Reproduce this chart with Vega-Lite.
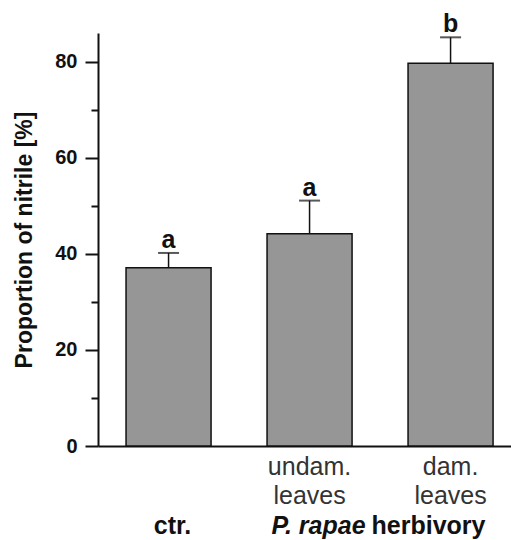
{
  "$schema": "https://vega.github.io/schema/vega-lite/v6.json",
  "width": 413,
  "height": 413,
  "autosize": "none",
  "padding": {"left": 98, "top": 33, "right": 0, "bottom": 94},
  "config": {
    "view": {"stroke": null},
    "font": "Liberation Sans",
    "axis": {"grid": false}
  },
  "datasets": {
    "bars": [
      {"cond": "ctr", "mean": 37.1, "upper": 40.2, "sig": "a"},
      {"cond": "undam", "mean": 44.2, "upper": 51.1, "sig": "a"},
      {"cond": "dam", "mean": 79.7, "upper": 85.1, "sig": "b"}
    ],
    "groups": [
      {"cond": "ctr", "label": "ctr."}
    ],
    "species": [
      {"cond": "undam", "label": "P. rapae"}
    ],
    "herb": [
      {"cond": "dam", "label": "herbivory"}
    ]
  },
  "layer": [
    {
      "data": {"name": "bars"},
      "mark": {"type": "bar", "fill": "#969696", "stroke": "#111111", "strokeWidth": 1.5},
      "encoding": {
        "x": {
          "field": "cond", "type": "nominal", "sort": ["ctr", "undam", "dam"],
          "scale": {"paddingInner": 0.397, "paddingOuter": 0.163, "align": 0.61},
          "axis": {
            "title": null,
            "ticks": false,
            "domainColor": "#111111",
            "domainWidth": 2,
            "labelAngle": 0,
            "labelFont": "Liberation Sans",
            "labelFontSize": 25,
            "labelColor": "#333333",
            "labelPadding": 8,
            "labelLineHeight": 29,
            "labelExpr": "datum.value == 'ctr' ? '' : datum.value == 'undam' ? ['undam.', 'leaves'] : ['dam.', 'leaves']"
          }
        },
        "y": {
          "field": "mean", "type": "quantitative",
          "scale": {"domain": [0, 86], "nice": false},
          "axis": {
            "title": "Proportion of nitrile [%]",
            "titleFont": "Liberation Sans",
            "titleFontSize": 23,
            "titleFontWeight": "bold",
            "titleColor": "#111111",
            "titlePadding": 18,
            "values": [0, 10, 20, 30, 40, 50, 60, 70, 80],
            "labelExpr": "datum.value % 20 == 0 ? datum.label : ''",
            "labelFont": "Liberation Sans",
            "labelFontSize": 20,
            "labelFontWeight": "bold",
            "labelColor": "#111111",
            "labelPadding": 8,
            "tickSize": {"condition": {"test": "datum.value % 20 == 0", "value": 13}, "value": 7},
            "tickWidth": 2,
            "tickColor": "#111111",
            "domainColor": "#111111",
            "domainWidth": 2
          }
        }
      }
    },
    {
      "data": {"name": "bars"},
      "mark": {"type": "rule", "color": "#111111", "strokeWidth": 1.5},
      "encoding": {
        "x": {"field": "cond", "type": "nominal", "sort": ["ctr", "undam", "dam"]},
        "y": {"field": "mean", "type": "quantitative"},
        "y2": {"field": "upper"}
      }
    },
    {
      "data": {"name": "bars"},
      "mark": {"type": "tick", "orient": "horizontal", "color": "#111111", "thickness": 2, "size": 21},
      "encoding": {
        "x": {"field": "cond", "type": "nominal", "sort": ["ctr", "undam", "dam"]},
        "y": {"field": "upper", "type": "quantitative"}
      }
    },
    {
      "data": {"name": "bars"},
      "mark": {"type": "text", "font": "Liberation Sans", "fontSize": 25, "fontWeight": "bold", "color": "#111111", "baseline": "alphabetic", "dy": -5},
      "encoding": {
        "x": {"field": "cond", "type": "nominal", "sort": ["ctr", "undam", "dam"]},
        "y": {"field": "upper", "type": "quantitative"},
        "text": {"field": "sig"}
      }
    },
    {
      "data": {"name": "groups"},
      "mark": {"type": "text", "font": "Liberation Sans", "fontSize": 25, "fontWeight": "bold", "color": "#111111", "baseline": "middle", "dy": 80, "dx": 4},
      "encoding": {
        "x": {"field": "cond", "type": "nominal", "sort": ["ctr", "undam", "dam"]},
        "y": {"datum": 0, "type": "quantitative"},
        "text": {"field": "label"}
      }
    },
    {
      "data": {"name": "species"},
      "mark": {"type": "text", "font": "Liberation Sans", "fontSize": 25, "fontWeight": "bold", "fontStyle": "italic", "color": "#111111", "baseline": "middle", "align": "right", "dy": 80, "dx": 56},
      "encoding": {
        "x": {"field": "cond", "type": "nominal", "sort": ["ctr", "undam", "dam"]},
        "y": {"datum": 0, "type": "quantitative"},
        "text": {"field": "label"}
      }
    },
    {
      "data": {"name": "herb"},
      "mark": {"type": "text", "font": "Liberation Sans", "fontSize": 25, "fontWeight": "bold", "color": "#111111", "baseline": "middle", "align": "left", "dy": 80, "dx": -79},
      "encoding": {
        "x": {"field": "cond", "type": "nominal", "sort": ["ctr", "undam", "dam"]},
        "y": {"datum": 0, "type": "quantitative"},
        "text": {"field": "label"}
      }
    }
  ]
}
